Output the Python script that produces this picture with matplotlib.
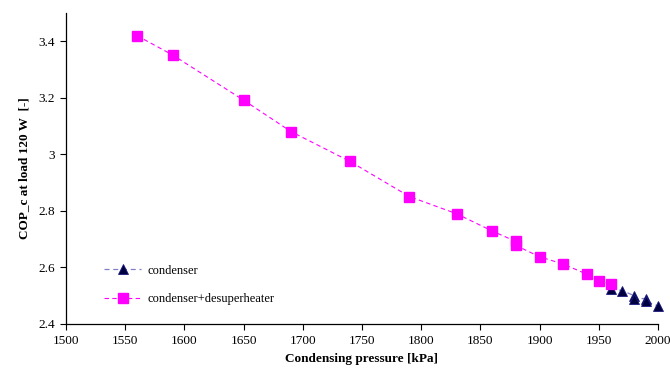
import matplotlib.pyplot as plt

# condenser + desuperheater series
desup_p = [1560, 1590, 1650, 1690, 1740, 1790, 1830, 1860, 1880, 1880,
           1900, 1920, 1940, 1950, 1960]
desup_cop = [3.42, 3.352, 3.192, 3.081, 2.975, 2.851, 2.79, 2.729, 2.692, 2.678,
             2.638, 2.612, 2.576, 2.553, 2.541]

# condenser only series
cond_p = [1960, 1970, 1980, 1980, 1990, 1990, 2000]
cond_cop = [2.525, 2.518, 2.50, 2.49, 2.49, 2.48, 2.464]

x_ticks = list(range(1500, 2001, 50))
y_ticks = [2.4, 2.6, 2.8, 3.0, 3.2, 3.4]
y_tick_labels = ['2.4', '2.6', '2.8', '3', '3.2', '3.4']

plt.rcParams['font.family'] = ['Liberation Serif', 'DejaVu Serif']

fig = plt.figure(figsize=(6.7, 3.74), dpi=100)
ax = fig.add_axes([0.0985, 0.1337, 0.8835, 0.8313])

ax.plot(cond_p, cond_cop, linestyle='--', dashes=(4, 3), color='#8080c8', linewidth=0.9,
        marker='^', markersize=6.5, markerfacecolor='#000040', markeredgecolor='#1a1a80',
        markeredgewidth=0.6, label='condenser', zorder=3, clip_on=False)
ax.plot(desup_p, desup_cop, linestyle='--', dashes=(4, 3), color='#ff00ff', linewidth=0.8,
        marker='s', markersize=6.5, markerfacecolor='#ff00ff', markeredgecolor='#ff00ff',
        label='condenser+desuperheater', zorder=4, clip_on=False)

ax.set_xlim(1500, 2000)
ax.set_ylim(2.4, 3.5)
ax.set_xticks(x_ticks)
ax.set_yticks(y_ticks)
ax.set_yticklabels(y_tick_labels)
ax.tick_params(direction='out', length=4, width=0.8, labelsize=9.5, pad=4)

ax.spines['top'].set_visible(False)
ax.spines['right'].set_visible(False)
ax.spines['left'].set_linewidth(0.9)
ax.spines['bottom'].set_linewidth(0.9)

ax.set_xlabel('Condensing pressure [kPa]', fontsize=9.5, fontweight='bold', labelpad=4)
ax.set_ylabel('COP_c at load 120 W  [-]', fontsize=9.5, fontweight='bold', labelpad=6)

ax.legend(loc='lower left', bbox_to_anchor=(0.045, 0.025), frameon=False, fontsize=9,
          handlelength=3.0, labelspacing=1.3, handletextpad=0.5)

fig.savefig('out.png', dpi=100)
